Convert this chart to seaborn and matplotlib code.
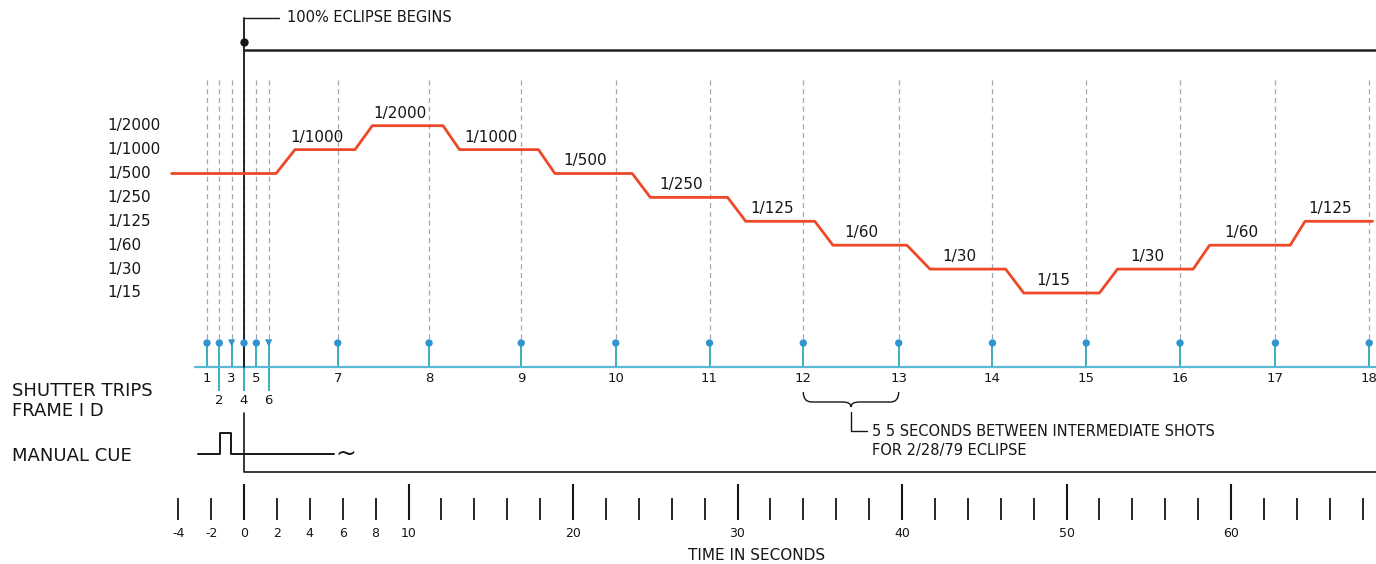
import matplotlib
matplotlib.use('Agg')
import matplotlib.pyplot as plt
import matplotlib.transforms as mtransforms
from matplotlib.path import Path
from matplotlib.patches import PathPatch
import seaborn as sns

# shutter speed steps, slowest to fastest
speed_labels = ['1/15', '1/30', '1/60', '1/125', '1/250', '1/500', '1/1000', '1/2000']

# exposure program: breakpoint times (s) and speed step index
exposure_time = [-4.4, 1.95, 3.1, 6.75, 7.8, 12.1, 13.1, 17.9, 18.9, 23.6, 24.7, 29.4, 30.5,
                 34.7, 35.8, 40.3, 41.7, 46.3, 47.4, 52.0, 53.1, 57.7, 58.7, 63.6, 64.5, 68.6]
exposure_step = [5, 5, 6, 6, 7, 7, 6, 6, 5, 5, 4, 4, 3, 3, 2, 2, 1, 1, 0, 0, 1, 1, 2, 2, 3, 3]

# shutter trips (frame id, time in s)
frame_ids = list(range(1, 19))
trip_time = [-2.25, -1.5, -0.75, 0.0, 0.75, 1.5, 5.7, 11.25, 16.85, 22.6, 28.3, 34.0,
             39.8, 45.5, 51.2, 56.9, 62.7, 68.4]
triangle_frames = [3, 6]
long_stem_frames = [2, 4, 6]
brace_frames = [12, 13]

# manual cue pulse
cue_time = [-2.8, -1.45, -1.45, -0.78, -0.78, 5.5]
cue_level = [0, 0, 1, 1, 0, 0]

# time scale
time_major = [0, 10, 20, 30, 40, 50, 60]
time_minor = [t for t in range(-4, 69, 2) if t % 10 != 0]
time_minor_labels = [str(t) if t < 10 else '' for t in time_minor]

sns.set_style('white')
plt.rcParams['font.family'] = ['DejaVu Sans']

W, H = 1376, 564
PX_PER_S = 16.45
X0 = 244
XMIN, XMAX = -X0 / PX_PER_S, (W - X0) / PX_PER_S
INK = '#161616'
TEAL = '#2aa8b4'


def fy(py):
    return 1 - py / H


fig = plt.figure(figsize=(W / 100, H / 100), dpi=100)

# base layer: x in seconds, y in layout pixels from top
ax = fig.add_axes([0, 0, 1, 1])
ax.set_xlim(XMIN, XMAX)
ax.set_ylim(H, 0)
ax.axis('off')

# dashed guides and stems for every shutter trip
ax.vlines(trip_time, 80, 340, colors='#9aa8b4', linestyles=(0, (4, 3)), lw=0.9)
ax.vlines(trip_time, 343, 367, colors=TEAL, lw=1.3)
ax.vlines([trip_time[f - 1] for f in long_stem_frames], 367, 391, colors=TEAL, lw=1.3)
ax.plot([-2.98, XMAX], [367, 367], color='#58bad6', lw=1.6)

kinds = ['tri' if f in triangle_frames else 'dot' for f in frame_ids]
sns.scatterplot(x=trip_time, y=[343] * len(trip_time), style=kinds,
                markers={'dot': 'o', 'tri': 'v'}, color='#2f94d0', s=28,
                edgecolor='none', legend=False, ax=ax, zorder=4)

for f, t in zip(frame_ids, trip_time):
    y = 400 if f in long_stem_frames else 379
    ax.text(t, y, str(f), ha='center', va='center', fontsize=9.5, color=INK)

# eclipse marker
ax.plot([0, 0], [18, 367], color=INK, lw=1.3)
ax.plot([0, 2.1], [18, 18], color=INK, lw=1)
ax.plot([0], [42], marker='o', ms=5, color=INK)
ax.plot([0, XMAX], [50, 50], color='#202020', lw=1.8)
ax.text(2.6, 18, '100% ECLIPSE BEGINS', ha='left', va='center', fontsize=10.5, color=INK)
ax.plot([0, 0, XMAX], [413, 472, 472], color=INK, lw=1.2)

# row titles
tr_rows = mtransforms.blended_transform_factory(fig.transFigure, ax.transData)
for label, y in [('SHUTTER TRIPS', 391), ('FRAME I D', 411), ('MANUAL CUE', 456)]:
    ax.text(12 / W, y, label, transform=tr_rows, ha='left', va='center', fontsize=13, color=INK)

# brace between intermediate shots
ta, tb = trip_time[brace_frames[0] - 1], trip_time[brace_frames[1] - 1]
tm, r = (ta + tb) / 2, 0.5
verts = [(ta, 392), (ta, 402), (ta + r, 402), (tm - r, 402), (tm, 402), (tm, 407),
         (tm, 402), (tm + r, 402), (tb - r, 402), (tb, 402), (tb, 392)]
codes = [Path.MOVETO, Path.CURVE3, Path.CURVE3, Path.LINETO, Path.CURVE3, Path.CURVE3,
         Path.CURVE3, Path.CURVE3, Path.LINETO, Path.CURVE3, Path.CURVE3]
ax.add_patch(PathPatch(Path(verts, codes), fill=False, lw=1, edgecolor=INK))
ax.plot([tm, tm, tm + 1.0], [412, 431, 431], color=INK, lw=1)
ax.text(tm + 1.3, 432, '5 5 SECONDS BETWEEN INTERMEDIATE SHOTS', ha='left', va='center',
        fontsize=10.5, color=INK)
ax.text(tm + 1.3, 450, 'FOR 2/28/79 ECLIPSE', ha='left', va='center', fontsize=10.5, color=INK)

ax.text((757 - X0) / PX_PER_S, 556, 'TIME IN SECONDS', ha='center', va='center',
        fontsize=11, color=INK)

# exposure program
STEP_PX, STEP0_PX = 23.9, 293
ax_speed = fig.add_axes([0, fy(340), 1, (340 - 60) / H])
ax_speed.set_xlim(XMIN, XMAX)
ax_speed.set_ylim((STEP0_PX - 340) / STEP_PX, (STEP0_PX - 60) / STEP_PX)
ax_speed.axis('off')
ax_speed.patch.set_alpha(0)
sns.lineplot(x=exposure_time, y=exposure_step, sort=False, estimator=None,
             color='#ef4829', lw=2.0, ax=ax_speed)

tr_speed = mtransforms.blended_transform_factory(fig.transFigure, ax_speed.transData)
for i, lab in enumerate(speed_labels):
    ax_speed.text(107 / W, i, lab, transform=tr_speed, ha='left', va='center',
                  fontsize=11, color=INK)

for i in range(2, len(exposure_time), 2):
    mid = (exposure_time[i] + exposure_time[i + 1]) / 2 - 0.5
    ax_speed.annotate(speed_labels[exposure_step[i]], (mid, exposure_step[i]),
                      xytext=(0, 9), textcoords='offset points', ha='center', va='center',
                      fontsize=11, color=INK)

# manual cue trace
ax_cue = fig.add_axes([0, fy(462), 1, (462 - 425) / H])
ax_cue.set_xlim(XMIN, XMAX)
ax_cue.set_ylim((454 - 462) / 21, (454 - 425) / 21)
ax_cue.axis('off')
ax_cue.patch.set_alpha(0)
sns.lineplot(x=cue_time, y=cue_level, sort=False, estimator=None, color=INK, lw=1.4, ax=ax_cue)
ax_cue.text(cue_time[-1] + 0.7, 0, '~', ha='center', va='center', fontsize=18, color=INK)

# time scale
ax_time = fig.add_axes([0, fy(520), 1, 40 / H])
ax_time.set_xlim(XMIN, XMAX)
ax_time.patch.set_alpha(0)
for s in ax_time.spines.values():
    s.set_visible(False)
ax_time.set_yticks([])
ax_time.set_xticks(time_major, [str(t) for t in time_major])
ax_time.set_xticks(time_minor, time_minor_labels, minor=True)
ax_time.tick_params(axis='x', which='major', bottom=True, direction='in', length=26, width=1.5,
                    pad=5, labelsize=9, color=INK, labelcolor=INK)
ax_time.tick_params(axis='x', which='minor', bottom=True, direction='in', length=16, width=1.3,
                    pad=5, labelsize=9, color=INK, labelcolor=INK)

fig.savefig('out.png', dpi=100)
